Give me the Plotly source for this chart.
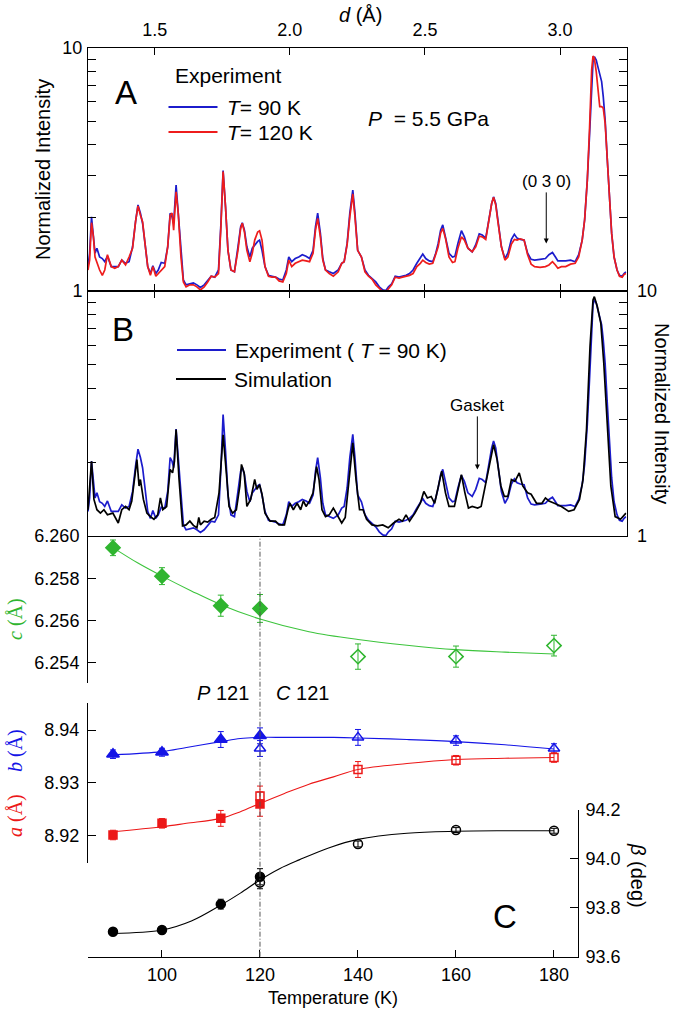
import math
import plotly.graph_objects as go

W, H = 677, 1011
FONT = "Liberation Sans, Arial, sans-serif"
SERIF = "Liberation Serif, Times New Roman, serif"

# ---------------- Panel A / B : diffraction patterns ----------------
d_exp = [1.253,1.259,1.266,1.273,1.279,1.286,1.296,1.306,1.315,1.325,
         1.339,1.352,1.365,1.378,1.392,1.405,1.418,1.429,1.438,1.447,
         1.455,1.464,1.474,1.484,1.493,1.504,1.513,1.524,1.537,1.548,
         1.557,1.564,1.570,1.579,1.587,1.597,1.606,1.616,1.630,1.643,
         1.656,1.669,1.683,1.696,1.709,1.722,1.736,1.745,1.753,1.762,
         1.771,1.782,1.795,1.808,1.818,1.824,1.832,1.841,1.852,1.861,
         1.870,1.881,1.888,1.897,1.908,1.921,1.934,1.947,1.960,1.974,
         1.987,1.996,2.007,2.020,2.033,2.046,2.060,2.073,2.086,2.095,
         2.103,2.113,2.122,2.132,2.146,2.161,2.179,2.192,2.201,2.212,
         2.222,2.233,2.241,2.251,2.265,2.278,2.291,2.304,2.318,2.331,
         2.344,2.355,2.365,2.377,2.390,2.404,2.417,2.430,2.443,2.456,
         2.470,2.483,2.492,2.503,2.516,2.529,2.540,2.549,2.558,2.566,
         2.576,2.589,2.602,2.611,2.622,2.635,2.646,2.659,2.675,2.688,
         2.701,2.712,2.725,2.738,2.747,2.754,2.762,2.770,2.783,2.796,
         2.807,2.820,2.831,2.841,2.853,2.867,2.880,2.893,2.906,2.926,
         2.946,2.959,2.972,2.983,2.992,3.005,3.021,3.039,3.056,3.069,
         3.082,3.091,3.101,3.109,3.117,3.122,3.127,3.134,3.140,3.147,
         3.154,3.160,3.167,3.175,3.183,3.191,3.200,3.211,3.220,3.230,
         3.237,3.244]

I_90K = [1.26,1.43,2.02,1.62,1.43,1.50,1.38,1.36,1.32,1.39,
         1.26,1.26,1.26,1.34,1.30,1.32,1.52,1.93,2.26,2.09,
         1.90,1.57,1.26,1.18,1.27,1.18,1.22,1.31,1.30,1.52,
         2.09,2.02,1.90,2.73,2.09,1.38,1.11,1.06,1.07,1.08,
         1.06,1.035,1.06,1.11,1.15,1.14,1.22,1.90,3.13,2.22,
         1.47,1.22,1.20,1.52,1.84,1.91,1.78,1.52,1.38,1.50,
         1.55,1.60,1.62,1.47,1.26,1.16,1.15,1.14,1.12,1.11,
         1.22,1.38,1.32,1.36,1.38,1.41,1.39,1.36,1.47,1.84,
         2.09,1.73,1.36,1.22,1.20,1.18,1.22,1.30,1.32,1.57,
         2.09,2.60,2.09,1.47,1.38,1.22,1.16,1.13,1.09,1.04,
         1.01,1.003,1.04,1.07,1.15,1.14,1.15,1.16,1.18,1.22,
         1.30,1.38,1.42,1.36,1.33,1.32,1.43,1.57,1.78,1.87,
         1.67,1.43,1.38,1.39,1.57,1.77,1.67,1.50,1.45,1.55,
         1.72,1.70,1.65,2.02,2.29,2.44,2.29,1.96,1.52,1.36,
         1.43,1.63,1.71,1.65,1.63,1.62,1.43,1.35,1.34,1.35,
         1.36,1.41,1.44,1.38,1.33,1.33,1.33,1.34,1.32,1.41,
         1.62,1.96,2.86,4.32,7.16,8.78,9.21,8.92,8.38,7.87,
         7.27,6.31,5.05,3.46,2.37,1.73,1.38,1.22,1.16,1.15,
         1.18,1.20]

I_120K = [1.22,1.34,1.91,1.67,1.38,1.30,1.22,1.16,1.22,1.41,
          1.26,1.24,1.26,1.34,1.28,1.38,1.50,1.93,2.24,2.05,
          1.93,1.57,1.26,1.16,1.26,1.15,1.18,1.22,1.26,1.52,
          2.05,2.09,1.78,2.56,2.09,1.38,1.09,1.04,1.06,1.06,
          1.04,1.01,1.04,1.09,1.15,1.14,1.18,1.84,3.10,2.22,
          1.47,1.22,1.20,1.47,1.81,1.90,1.75,1.47,1.32,1.43,
          1.62,1.75,1.77,1.62,1.26,1.15,1.14,1.14,1.10,1.09,
          1.18,1.34,1.26,1.30,1.32,1.34,1.33,1.32,1.43,1.78,
          1.99,1.67,1.34,1.22,1.18,1.15,1.20,1.30,1.32,1.55,
          2.02,2.51,2.02,1.47,1.38,1.20,1.15,1.12,1.06,1.025,
          0.994,0.99,1.025,1.06,1.14,1.13,1.14,1.15,1.16,1.18,
          1.26,1.30,1.34,1.31,1.29,1.30,1.41,1.52,1.73,1.81,
          1.65,1.38,1.31,1.32,1.50,1.67,1.62,1.50,1.45,1.52,
          1.68,1.67,1.63,2.01,2.29,2.43,2.26,1.93,1.52,1.34,
          1.38,1.56,1.63,1.62,1.64,1.62,1.41,1.29,1.26,1.25,
          1.26,1.28,1.32,1.28,1.24,1.26,1.26,1.29,1.30,1.38,
          1.62,1.96,2.86,4.60,8.12,9.27,9.07,7.99,6.72,5.74,
          5.74,5.65,4.90,3.46,2.37,1.73,1.38,1.22,1.15,1.14,
          1.17,1.18]

d_sim = [1.253,1.266,1.275,1.286,1.299,1.312,1.325,1.345,1.365,1.378,
         1.392,1.405,1.415,1.425,1.434,1.442,1.447,1.458,1.471,1.484,
         1.497,1.511,1.521,1.530,1.544,1.557,1.566,1.573,1.579,1.590,
         1.603,1.616,1.630,1.643,1.656,1.663,1.669,1.683,1.696,1.709,
         1.722,1.738,1.753,1.765,1.775,1.788,1.802,1.815,1.821,1.831,
         1.841,1.855,1.870,1.878,1.888,1.897,1.908,1.927,1.947,1.960,
         1.980,1.993,2.000,2.013,2.027,2.040,2.050,2.060,2.073,2.086,
         2.099,2.108,2.119,2.132,2.146,2.161,2.172,2.192,2.205,2.218,
         2.233,2.245,2.258,2.271,2.284,2.304,2.324,2.344,2.364,2.384,
         2.404,2.417,2.430,2.443,2.463,2.483,2.496,2.509,2.523,2.536,
         2.549,2.562,2.576,2.589,2.609,2.622,2.635,2.648,2.661,2.675,
         2.695,2.708,2.721,2.741,2.754,2.767,2.781,2.794,2.807,2.820,
         2.833,2.849,2.862,2.880,2.893,2.913,2.933,2.946,2.959,2.979,
         3.005,3.032,3.052,3.072,3.085,3.098,3.111,3.122,3.127,3.138,
         3.151,3.162,3.175,3.188,3.204,3.224,3.244]

I_sim = [1.28,2.02,1.41,1.28,1.24,1.28,1.22,1.24,1.13,1.28,
         1.32,1.28,1.39,1.70,2.05,1.60,1.70,1.41,1.24,1.20,
         1.17,1.22,1.43,1.28,1.32,1.87,1.81,2.02,2.72,1.70,
         1.10,1.11,1.15,1.105,1.08,1.19,1.11,1.15,1.14,1.17,
         1.19,1.50,2.59,1.81,1.32,1.24,1.28,1.60,1.96,1.81,
         1.32,1.41,1.70,1.55,1.62,1.48,1.24,1.15,1.15,1.11,
         1.11,1.28,1.36,1.28,1.36,1.28,1.39,1.32,1.39,1.50,
         1.92,1.70,1.28,1.20,1.22,1.30,1.24,1.13,1.19,1.70,
         2.40,1.70,1.28,1.28,1.17,1.11,1.10,1.11,1.08,1.13,
         1.17,1.15,1.22,1.15,1.24,1.36,1.52,1.43,1.45,1.36,
         1.60,1.84,1.50,1.32,1.32,1.55,1.78,1.50,1.30,1.32,
         1.30,1.32,1.55,2.05,2.36,2.05,1.60,1.45,1.45,1.70,
         1.67,1.81,1.60,1.50,1.48,1.36,1.36,1.43,1.39,1.36,
         1.32,1.26,1.28,1.41,1.70,2.72,5.93,9.19,9.48,8.64,
         7.38,5.07,2.72,1.60,1.20,1.17,1.24]

d_ticks = [1.5, 2.0, 2.5, 3.0]
d_ticktext = ["1.5", "2.0", "2.5", "3.0"]
log_ticks = [1, 2, 3, 4, 5, 6, 7, 8, 9, 10]
log_ticktext = ["1", "", "", "", "", "", "", "", "", "10"]

peak_030 = (2.949, 1.57)      # (d, intensity) of arrow tip
gasket = (2.694, 1.87)

# ---------------- Panel C : lattice parameters ----------------
T_low = [90, 100, 112, 120]
T_high = [120, 140, 160, 180]
T_c_high = [140, 160, 180]
T_ticks = [100, 120, 140, 160, 180]
T_transition = 120

c_low = [6.25944, 6.25810, 6.25670, 6.25657]
c_low_err = [0.00037, 0.00040, 0.00050, 0.00066]
c_high = [6.25429, 6.25429, 6.25481]
c_high_err = [0.00060, 0.00050, 0.00049]
c_fit_T = [90, 95, 100, 106, 112, 120, 130, 140, 150, 160, 170, 180]
c_fit = [6.25945, 6.25873, 6.25810, 6.25740, 6.25675, 6.25607, 6.25547,
         6.25510, 6.25483, 6.25462, 6.25450, 6.25441]

b_low = [8.93542, 8.93579, 8.93820, 8.93890]
b_low_err = [0.0008, 0.00075, 0.0015, 0.0015]
b_high = [8.93650, 8.93860, 8.93800, 8.93650]
b_high_err = [0.0015, 0.0015, 0.0009, 0.0009]
ab_fit_T = [90, 100, 105, 112, 116, 120, 125, 130, 135, 140, 150, 160, 170, 180]
b_fit = [8.9353, 8.9359, 8.9367, 8.9378, 8.9384, 8.9386, 8.9386, 8.9386,
         8.9386, 8.9385, 8.9382, 8.9378, 8.9372, 8.9364]

a_low = [8.92013, 8.92234, 8.92328, 8.92598]
a_low_err = [0.0009, 0.0009, 0.0015, 0.0023]
a_high = [8.92749, 8.93253, 8.93428, 8.93479]
a_high_err = [0.0019, 0.0015, 0.0009, 0.0009]
a_fit = [8.92075, 8.92170, 8.92234, 8.92328, 8.92453, 8.92611, 8.92800,
         8.92975, 8.93113, 8.93253, 8.93366, 8.93442, 8.93466, 8.93479]

beta_low = [93.702, 93.709, 93.815, 93.927]
beta_low_err = [0.012, 0.012, 0.020, 0.033]
beta_high = [93.903, 94.061, 94.118, 94.115]
beta_high_err = [0.025, 0.012, 0.010, 0.010]
beta_fit_T = [90, 100, 106, 112, 116, 120, 124, 128, 134, 140, 150, 160, 170, 180]
beta_fit = [93.695, 93.709, 93.746, 93.811, 93.860, 93.914, 93.960, 93.996,
            94.045, 94.080, 94.105, 94.113, 94.115, 94.115]

# ---------------- colours ----------------
BLUE_SPEC = "#1c1ccc"
RED_SPEC = "#ee1c1c"
GREEN = "#2fb52f"
GREEN_FIT = "#3cc43c"
BLUE = "#1414e6"
RED = "#ec1818"
BLACK = "#000000"


def px_x(p):
    return p / W


def px_y(p):
    return 1 - p / H


fig = go.Figure()

# panel A
fig.add_trace(go.Scatter(x=d_exp, y=I_90K, xaxis="x", yaxis="y", mode="lines",
                         line=dict(color=BLUE_SPEC, width=1.7), showlegend=False))
fig.add_trace(go.Scatter(x=d_exp, y=I_120K, xaxis="x", yaxis="y", mode="lines",
                         line=dict(color=RED_SPEC, width=1.7), showlegend=False))
# panel B
fig.add_trace(go.Scatter(x=d_exp, y=I_90K, xaxis="x2", yaxis="y2", mode="lines",
                         line=dict(color=BLUE_SPEC, width=1.7), showlegend=False))
fig.add_trace(go.Scatter(x=d_sim, y=I_sim, xaxis="x2", yaxis="y2", mode="lines",
                         line=dict(color=BLACK, width=1.7), showlegend=False))


def err(arr, color):
    return dict(type="data", array=arr, visible=True, thickness=1, width=3, color=color)


def fit_trace(xs, ys, yaxis, color):
    return go.Scatter(x=xs, y=ys, xaxis="x3", yaxis=yaxis, mode="lines",
                      line=dict(color=color, width=1.1, shape="spline", smoothing=1.0),
                      showlegend=False, hoverinfo="skip")


def pts(xs, ys, e, yaxis, symbol, size, color):
    return go.Scatter(x=xs, y=ys, xaxis="x3", yaxis=yaxis, mode="markers",
                      error_y=err(e, color),
                      marker=dict(symbol=symbol, size=size, color=color,
                                  line=dict(color=color, width=1.5)),
                      showlegend=False)


# c
fig.add_trace(fit_trace(c_fit_T, c_fit, "y3", GREEN_FIT))
fig.add_trace(pts(T_low, c_low, c_low_err, "y3", "diamond", 11, GREEN))
fig.add_trace(pts(T_c_high, c_high, c_high_err, "y3", "diamond-open", 11, GREEN))
# b and a
fig.add_trace(fit_trace(ab_fit_T, b_fit, "y4", BLUE))
fig.add_trace(fit_trace(ab_fit_T, a_fit, "y4", RED))
fig.add_trace(pts(T_low, b_low, b_low_err, "y4", "triangle-up", 11, BLUE))
fig.add_trace(pts(T_high, b_high, b_high_err, "y4", "triangle-up-open", 10, BLUE))
fig.add_trace(pts(T_low, a_low, a_low_err, "y4", "square", 8, RED))
fig.add_trace(pts(T_high, a_high, a_high_err, "y4", "square-open", 8, RED))
# beta
fig.add_trace(fit_trace(beta_fit_T, beta_fit, "y5", BLACK))
fig.add_trace(pts(T_low, beta_low, beta_low_err, "y5", "circle", 9, BLACK))
fig.add_trace(pts(T_high, beta_high, beta_high_err, "y5", "circle-open", 9, BLACK))

TICKFONT = dict(family=FONT, size=18, color="black")
base = dict(showline=True, linecolor="black", linewidth=1, showgrid=False,
            zeroline=False, ticks="inside", tickcolor="black", tickwidth=1,
            tickfont=TICKFONT, automargin=False)

dom_AB = [px_x(88), px_x(626.5)]
d_range = [1.253, 3.246]
dom_T = [px_x(88), px_x(578)]
T_range = [84.9, 184.9]

layout_axes = dict(
    xaxis=dict(base, domain=dom_AB, range=d_range, anchor="y", side="top",
               tickvals=d_ticks, ticktext=d_ticktext, ticklen=7, mirror="ticks",
               ticklabelstandoff=4),
    yaxis=dict(base, domain=[px_y(291), px_y(48)], type="log", range=[0, 1],
               anchor="x", tickvals=log_ticks, ticktext=log_ticktext, ticklen=8,
               mirror="ticks", ticklabelstandoff=1),
    xaxis2=dict(base, domain=dom_AB, range=d_range, anchor="y2", side="top",
                tickvals=d_ticks, ticklen=7, showticklabels=False, mirror=True),
    yaxis2=dict(base, domain=[px_y(536), px_y(291)], type="log", range=[0, 1],
                anchor="x2", side="right", tickvals=log_ticks, ticktext=log_ticktext,
                ticklen=8, mirror="ticks", ticklabelstandoff=6),
    xaxis3=dict(base, domain=dom_T, range=T_range, anchor="y5", side="bottom",
                tickvals=T_ticks, ticklen=7, ticklabelstandoff=2),
    xaxis4=dict(domain=dom_T, range=T_range, overlaying="x3", anchor="free",
                position=px_y(536), side="bottom", ticks="outside", ticklen=7,
                tickcolor="black", tickvals=T_ticks, showticklabels=False,
                showline=False, showgrid=False, zeroline=False),
    xaxis5=dict(domain=dom_T, range=T_range, overlaying="x3", anchor="free",
                position=px_y(536), side="bottom", ticks="inside", ticklen=7,
                tickcolor="black", tickvals=T_ticks, showticklabels=False,
                showline=False, showgrid=False, zeroline=False),
    yaxis3=dict(base, domain=[px_y(683), px_y(536)], range=[6.25304, 6.26],
                anchor="x3", tick0=6.254, dtick=0.002, tickformat=".3f", ticklen=8,
                ticklabelstandoff=4),
    yaxis4=dict(base, domain=[px_y(862.7), px_y(703)], range=[8.91489, 8.94511],
                anchor="x3", tickvals=[8.92, 8.93, 8.94], tickformat=".2f", ticklen=8,
                ticklabelstandoff=4),
    yaxis5=dict(base, domain=[px_y(956.7), px_y(810)], range=[93.6, 94.2],
                anchor="x3", side="right", tickvals=[93.6, 93.8, 94.0, 94.2],
                tickformat=".1f", ticklen=8, ticklabelstandoff=3),
)


def ann(text, x, y, size, xanchor="center", angle=0, color="black", family=FONT):
    return dict(text=text, x=px_x(x), y=px_y(y), xref="paper", yref="paper",
                xanchor=xanchor, yanchor="middle", showarrow=False, textangle=angle,
                font=dict(family=family, size=size, color=color))


annotations = [
    ann("<i>d</i> (Å)", 360, 15, 20),
    ann("Normalized Intensity", 43, 170, 20, angle=-90),
    ann("Normalized Intensity", 662, 413, 20, angle=90),
    ann("A", 126, 93, 33),
    ann("B", 123, 330, 33),
    ann("C", 505, 916, 33),
    ann("Experiment", 173, 75, 21, xanchor="left"),
    ann("<i>T</i>= 90 K", 225, 107, 21, xanchor="left"),
    ann("<i>T</i>= 120 K", 225, 132, 21, xanchor="left"),
    ann("<i>P</i>  = 5.5 GPa", 366, 118, 21, xanchor="left"),
    ann("Experiment ( <i>T</i> = 90 K)", 233, 350, 21, xanchor="left"),
    ann("Simulation", 232, 379, 21, xanchor="left"),
    ann("<i>P</i> 121", 223, 693, 20),
    ann("<i>C</i> 121", 302, 693, 20),
    ann("<i>c</i> (Å)", 15, 619, 20, angle=-90, color=GREEN, family=SERIF),
    ann("<i>b</i> (Å)", 15, 751, 20, angle=-90, color=BLUE, family=SERIF),
    ann("<i>a</i> (Å)", 15, 816, 20, angle=-90, color=RED, family=SERIF),
    ann("<i>β</i> (deg)", 638, 875, 20, angle=90),
    ann("Temperature (K)", 333, 998, 18),
    dict(text="(0 3 0)", x=peak_030[0], y=math.log10(peak_030[1]), xref="x", yref="y",
         ax=0, ay=-62, showarrow=True, arrowhead=2, arrowsize=1, arrowwidth=1,
         arrowcolor="black", font=dict(family=FONT, size=17, color="black")),
    dict(text="Gasket", x=gasket[0], y=math.log10(gasket[1]), xref="x2", yref="y2",
         ax=0, ay=-64, showarrow=True, arrowhead=2, arrowsize=1, arrowwidth=1,
         arrowcolor="black", font=dict(family=FONT, size=17, color="black")),
]


def legline(x0, x1, y, color):
    return dict(type="line", xref="paper", yref="paper", x0=px_x(x0), x1=px_x(x1),
                y0=px_y(y), y1=px_y(y), line=dict(color=color, width=2))


shapes = [
    legline(168.5, 217.5, 107, BLUE_SPEC),
    legline(168.5, 217.5, 132, RED_SPEC),
    legline(177, 226, 350, BLUE_SPEC),
    legline(176, 226, 379, BLACK),
    dict(type="line", xref="x3", yref="paper", x0=T_transition, x1=T_transition,
         y0=px_y(956.7), y1=px_y(536), line=dict(color="#555555", width=1, dash="5px,2px,1px,2px")),
]

fig.update_layout(
    width=W, height=H, template="none",
    margin=dict(l=0, r=0, t=0, b=0),
    paper_bgcolor="white", plot_bgcolor="rgba(0,0,0,0)",
    showlegend=False,
    annotations=annotations, shapes=shapes,
    font=dict(family=FONT, color="black"),
    **layout_axes,
)

fig.write_html("out.html",
               config={"displayModeBar": False},
               post_script="document.body.style.margin='0px';document.body.style.padding='0px';")
